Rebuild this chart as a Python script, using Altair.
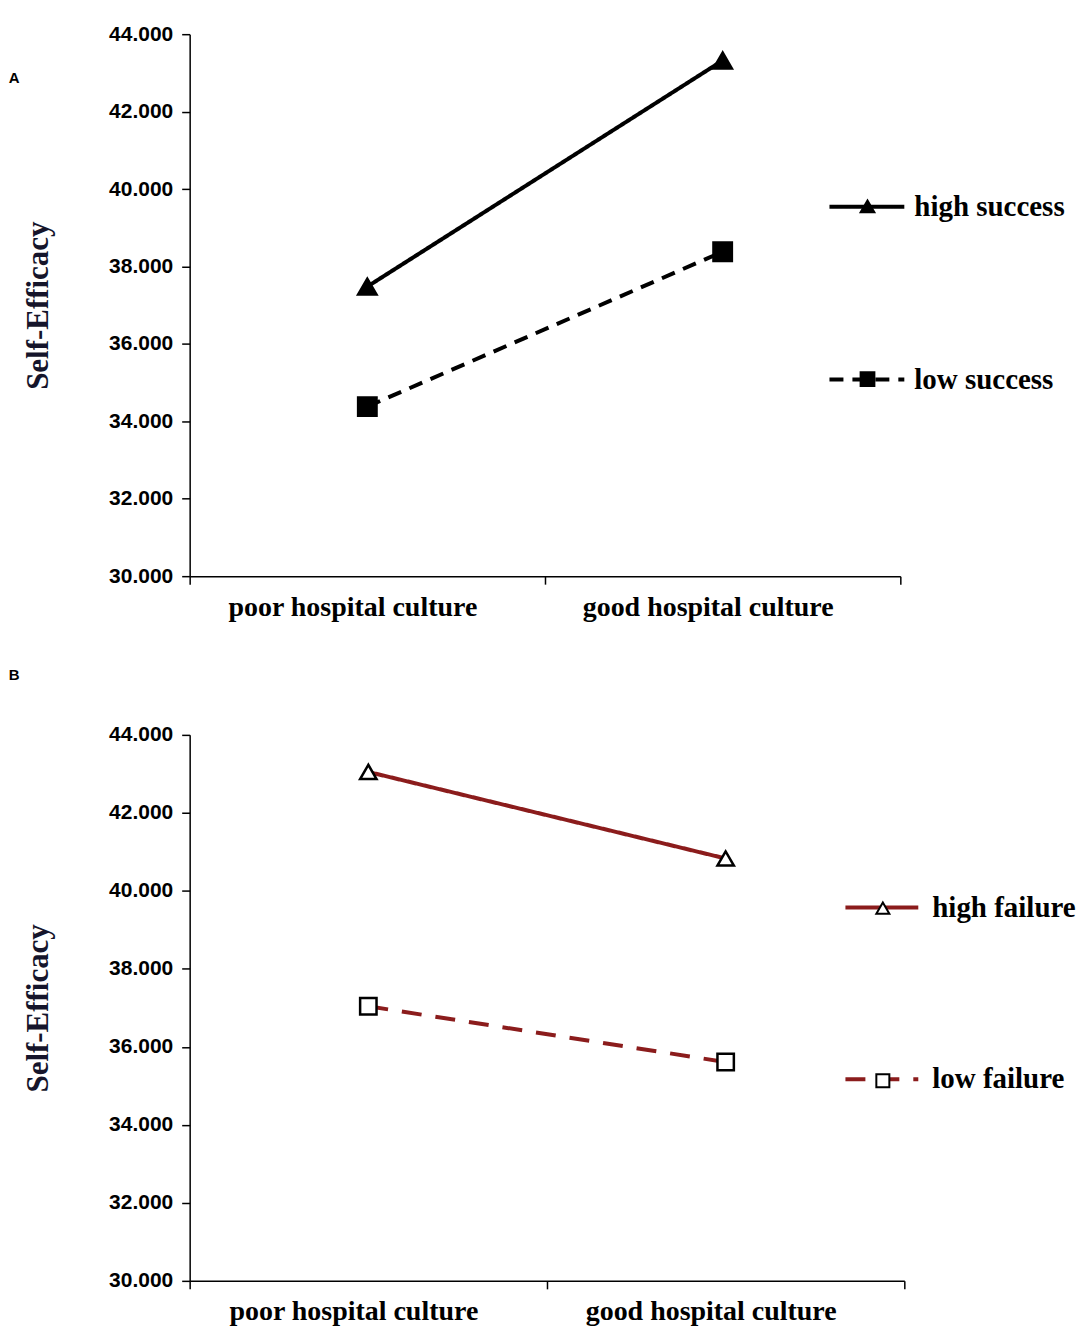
import altair as alt
import pandas as pd

culture = ["poor hospital culture", "good hospital culture"]
y_ticks = [30, 32, 34, 36, 38, 40, 42, 44]

series_a = ["high success", "low success"]
high_success = [37.48, 43.32]
low_success = [34.38, 38.38]

series_b = ["high failure", "low failure"]
high_failure = [43.05, 40.83]
low_failure = [37.04, 35.61]


def frame(series, values_list):
    rows = []
    for s, vals in zip(series, values_list):
        for c, v in zip(culture, vals):
            rows.append({"culture": c, "value": v, "series": s, "marker": s})
    return pd.DataFrame(rows)


letter_offset = {"A": 0, "B": 41}
letter_dy = {"A": 63, "B": 0}
ROW_STEP = 172
LEG_FONT = 29


def panel(df, series, letter, width, height, line_color, dash, fill_color, pt_size,
          legend_x, legend_y, label_offset, leg_sym_size, line_len):
    x = alt.X(
        "culture:N", sort=culture,
        scale=alt.Scale(type="band", paddingInner=0, paddingOuter=0),
        axis=alt.Axis(title=None, labelAngle=0, tickBand="extent", grid=False, labelLimit=0,
                      labelFont="Liberation Serif", labelFontSize=28, labelFontWeight="bold",
                      labelColor="black", labelPadding=9, labelOffset=-15,
                      tickSize=8, tickColor="black",
                      tickWidth=1.5, domainColor="black", domainWidth=1.5),
    )
    y = alt.Y(
        "value:Q",
        scale=alt.Scale(domain=[30, 44], nice=False, zero=False),
        axis=alt.Axis(values=y_ticks, format=".3f", grid=False, title="Self-Efficacy",
                      titleFont="Liberation Serif", titleFontSize=31, titleFontWeight="bold",
                      titleColor="#15152b", titlePadding=54,
                      labelFont="Liberation Sans", labelFontSize=21, labelFontWeight="bold",
                      labelColor="black", labelPadding=9, tickSize=8, tickColor="black",
                      tickWidth=1.5, domainColor="black", domainWidth=1.5),
    )
    common_leg = dict(orient="none", title=None, padding=0,
                      labelFont="Liberation Serif", labelFontSize=LEG_FONT,
                      labelFontWeight="bold", labelOffset=label_offset)
    lines = alt.Chart(df).mark_line(color=line_color, strokeWidth=4).encode(
        x=x, y=y,
        strokeDash=alt.StrokeDash(
            "series:N",
            scale=alt.Scale(domain=series, range=[[1, 0], dash]),
            legend=alt.Legend(legendX=legend_x,
                              legendY=legend_y + LEG_FONT / 2 - 39,
                              rowPadding=ROW_STEP - 54,
                              symbolType="stroke",
                              symbolSize=line_len * line_len, symbolStrokeWidth=4,
                              symbolStrokeColor=line_color, labelColor="black",
                              **common_leg),
        ),
    )
    sym_w = leg_sym_size ** 0.5
    marker_legend = alt.Legend(legendX=legend_x + line_len / 2 - sym_w / 2 - 5,
                               legendY=legend_y,
                               rowPadding=ROW_STEP - LEG_FONT,
                               symbolSize=leg_sym_size,
                               symbolStrokeWidth=2,
                               symbolOpacity=1, labelOpacity=0, labelExpr="' '",
                               **common_leg)
    points = alt.Chart(df).mark_point(size=pt_size, opacity=1, filled=True,
                                      strokeWidth=2.5, fillOpacity=1).encode(
        x=x, y=y,
        shape=alt.Shape(
            "marker:N",
            scale=alt.Scale(domain=series, range=["triangle-up", "square"]),
            legend=marker_legend,
        ),
        stroke=alt.Stroke(
            "marker:N",
            scale=alt.Scale(domain=series, range=["black", "black"]),
            legend=marker_legend,
        ),
        fill=alt.Fill(
            "marker:N",
            scale=alt.Scale(domain=series, range=[fill_color, fill_color]),
            legend=marker_legend,
        ),
    )
    return alt.layer(lines, points).properties(
        width=width, height=height,
        title=alt.Title(letter, anchor="start", frame="bounds", fontSize=15,
                        font="Liberation Sans", fontWeight="bold", color="black",
                        offset=letter_offset[letter], dx=-14, dy=letter_dy[letter]),
    ).resolve_scale(strokeDash="independent", shape="independent",
                    stroke="independent", fill="independent")


df_a = frame(series_a, [high_success, low_success])
df_b = frame(series_b, [high_failure, low_failure])

pa = panel(df_a, series_a, "A", 712, 543, "black", [14, 9], "black", 340,
           639, 158, 8, 190, 75)
pb = panel(df_b, series_b, "B", 716, 547, "#8B1C1C", [20, 14], "white", 270,
           655, 159, 12, 170, 73)

chart = alt.vconcat(pa, pb, spacing=47).resolve_scale(
    strokeDash="independent", shape="independent", stroke="independent", fill="independent"
).resolve_legend(
    strokeDash="independent", shape="independent", stroke="independent", fill="independent"
).properties(
    padding={"left": 0, "top": 14, "right": 0, "bottom": 0}
).configure_view(stroke=None)

chart.save("out.html", embed_options={"renderer": "svg", "actions": False})
